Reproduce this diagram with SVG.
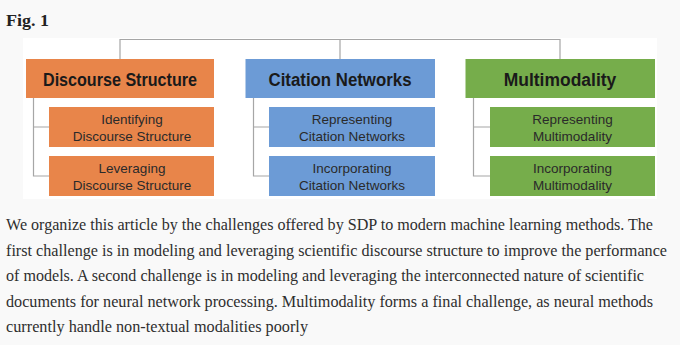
<svg xmlns="http://www.w3.org/2000/svg" width="680" height="345" viewBox="0 0 680 345">
<style>
.hdr{font-family:"Liberation Sans",Arial,sans-serif;font-weight:bold;font-size:18px;fill:#1a1a1a;text-anchor:middle}
.sub{font-family:"Liberation Sans",Arial,sans-serif;font-size:13.5px;fill:#2a2a2a;text-anchor:middle}
.par{font-family:"Liberation Serif","Times New Roman",serif;font-size:16.3px;fill:#2e2e2e}
.conn{fill:none;stroke:#a6a6a6;stroke-width:1.2}
.or{fill:#e8854a}
.bl{fill:#6c9bd6}
.gr{fill:#76ad4b}
</style>
<rect x="0" y="0" width="680" height="345" fill="#f9f9f9"/>
<rect x="23" y="38" width="634" height="161" fill="#ffffff"/>
<text x="6" y="25.5" font-family="'Liberation Serif','Times New Roman',serif" font-weight="bold" font-size="16.5" fill="#222" textLength="43" lengthAdjust="spacingAndGlyphs">Fig. 1</text>
<g id="connectors">
<path class="conn" d="M120,59 V39.5 H560 V59 M340,39.5 V59"/>
<path class="conn" d="M33.5,98 V176 H49 M33.5,127 H49"/>
<path class="conn" d="M253.5,98 V176 H269 M253.5,127 H269"/>
<path class="conn" d="M473.5,98 V176 H490 M473.5,127 H490"/>
</g>
<g id="discourse">
<rect class="or" x="26" y="59" width="188" height="39"/>
<text class="hdr" x="120" y="86" textLength="154" lengthAdjust="spacingAndGlyphs">Discourse Structure</text>
</g>
<g id="identifying">
<rect class="or" x="49" y="107" width="165" height="40"/>
<text class="sub" x="132" y="124">Identifying</text>
<text class="sub" x="132" y="141.3">Discourse Structure</text>
</g>
<g id="leveraging">
<rect class="or" x="49" y="156" width="165" height="40"/>
<text class="sub" x="132" y="172.5">Leveraging</text>
<text class="sub" x="132" y="189.5">Discourse Structure</text>
</g>
<g id="citation">
<rect class="bl" x="245.5" y="59" width="189.5" height="39"/>
<text class="hdr" x="340" y="86" textLength="143" lengthAdjust="spacingAndGlyphs">Citation Networks</text>
</g>
<g id="representing-citation">
<rect class="bl" x="269" y="107" width="166" height="40"/>
<text class="sub" x="352" y="124">Representing</text>
<text class="sub" x="352" y="141.3">Citation Networks</text>
</g>
<g id="incorporating-citation">
<rect class="bl" x="269" y="156" width="166" height="40"/>
<text class="sub" x="352" y="172.5">Incorporating</text>
<text class="sub" x="352" y="189.5">Citation Networks</text>
</g>
<g id="multimodality">
<rect class="gr" x="465.5" y="59" width="189.5" height="39"/>
<text class="hdr" x="560" y="85.5" textLength="112.5" lengthAdjust="spacingAndGlyphs">Multimodality</text>
</g>
<g id="representing-multimodality">
<rect class="gr" x="490" y="107" width="165" height="40"/>
<text class="sub" x="572.5" y="124">Representing</text>
<text class="sub" x="572.5" y="141.3">Multimodality</text>
</g>
<g id="incorporating-multimodality">
<rect class="gr" x="490" y="156" width="165" height="40"/>
<text class="sub" x="572.5" y="172.5">Incorporating</text>
<text class="sub" x="572.5" y="189.5">Multimodality</text>
</g>
<g id="caption">
<text class="par" x="6" y="230" textLength="647" lengthAdjust="spacingAndGlyphs">We organize this article by the challenges offered by SDP to modern machine learning methods. The</text>
<text class="par" x="6" y="255.5" textLength="661" lengthAdjust="spacingAndGlyphs">first challenge is in modeling and leveraging scientific discourse structure to improve the performance</text>
<text class="par" x="6" y="281" textLength="638" lengthAdjust="spacingAndGlyphs">of models. A second challenge is in modeling and leveraging the interconnected nature of scientific</text>
<text class="par" x="6" y="306.5" textLength="647" lengthAdjust="spacingAndGlyphs">documents for neural network processing. Multimodality forms a final challenge, as neural methods</text>
<text class="par" x="6" y="332" textLength="302" lengthAdjust="spacingAndGlyphs">currently handle non-textual modalities poorly</text>
</g>
</svg>
